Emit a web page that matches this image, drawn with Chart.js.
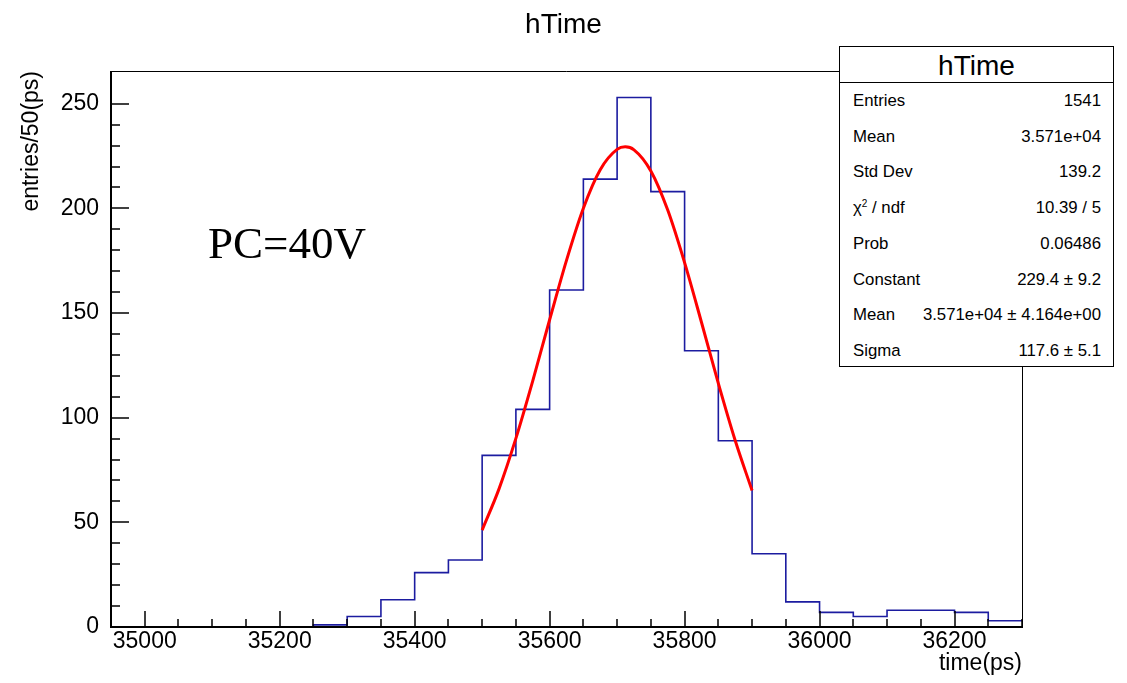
<!DOCTYPE html>
<html>
<head>
<meta charset="utf-8">
<script src="https://cdn.jsdelivr.net/npm/chart.js@4/dist/chart.umd.min.js"></script>
<style>
  html, body { margin: 0; padding: 0; background: #fff; }
  #wrap { position: relative; width: 1127px; height: 683px; font-family: "Liberation Sans", Arial, sans-serif; }
  #stats { position: absolute; left: 839px; top: 46px; width: 275px; height: 321px; border: 1px solid #000; background: #fff; box-sizing: border-box; }
  #stats .ttl { position: absolute; left: 0; right: 0; top: 0; height: 35px; line-height: 38px; text-align: center; font-size: 28px; border-bottom: 1px solid #000; }
  #stats .row { position: absolute; left: 13px; right: 12px; height: 20px; line-height: 20px; font-size: 16.8px; }
  #stats .row .l { position: absolute; left: 0; }
  #stats .row .r { position: absolute; right: 0; }
  #stats sup { font-size: 10px; vertical-align: 6px; line-height: 0; }
  #pc { position: absolute; left: 208px; top: 218px; font-family: "Liberation Serif", "Times New Roman", serif; font-size: 45px; line-height: 50px; white-space: nowrap; }
</style>
</head>
<body>
<div id="wrap">
  <canvas id="c" width="1127" height="683"></canvas>
  <div id="pc">PC=40V</div>
  <div id="stats"></div>
</div>
<script>
// ---- data ----
const binLowEdges = [34950, 35000, 35050, 35100, 35150, 35200, 35250, 35300, 35350, 35400,
                     35450, 35500, 35550, 35600, 35650, 35700, 35750, 35800, 35850, 35900,
                     35950, 36000, 36050, 36100, 36150, 36200, 36250];
const binCounts   = [0, 0, 0, 0, 0, 0, 1, 5, 13, 26,
                     32, 82, 104, 161, 214, 253, 208, 132, 89, 35,
                     12, 7, 5, 8, 8, 7, 3];
const histUpperEdge = 36300;

const fitX = [35500, 35525, 35550, 35575, 35600, 35625, 35650, 35675, 35700, 35712,
              35725, 35750, 35775, 35800, 35825, 35850, 35875, 35900];
const fitY = [46.3, 66.0, 90.1, 117.6, 146.8, 175.2, 200.1, 218.5, 228.2, 229.4,
              228.0, 217.9, 199.2, 174.1, 145.6, 116.4, 89.1, 65.2];

const xRange = [34950, 36300];
const yRange = [0, 265.65];

const statsLabels = ["Entries", "Mean", "Std Dev", "χ<sup>2</sup> / ndf", "Prob", "Constant", "Mean", "Sigma"];
const statsValues = ["1541", "3.571e+04", "139.2", "10.39 / 5", "0.06486", "229.4 ± 9.2", "3.571e+04 ± 4.164e+00", "117.6 ± 5.1"];

// ---- stats box ----
const st = document.getElementById('stats');
st.innerHTML = '<div class="ttl">hTime</div>' + statsLabels.map((l, i) =>
  `<div class="row" style="top:${44 + i * 35.7}px"><span class="l">${l}</span><span class="r">${statsValues[i]}</span></div>`).join('');

// ---- chart ----
// each bin's count holds from its low edge to the next edge
const histPoints = binLowEdges.map((e, i) => ({ x: e, y: i === 0 ? binCounts[0] : binCounts[i - 1] }));
histPoints.push({ x: histUpperEdge, y: binCounts[binCounts.length - 1] });
const fitPoints = fitX.map((x, i) => ({ x: x, y: fitY[i] }));

const frameTicks = {
  id: 'frameTicks',
  afterDatasetsDraw(chart) {
    const { ctx, chartArea: a, scales } = chart;
    const x = scales.x, y = scales.y;
    ctx.save();
    ctx.strokeStyle = '#000';
    ctx.lineWidth = 1;
    ctx.beginPath();
    ctx.moveTo(a.left, a.top + 0.5); ctx.lineTo(a.right + 0.5, a.top + 0.5);
    ctx.lineTo(a.right + 0.5, a.bottom);
    ctx.stroke();
    ctx.lineWidth = 2;
    ctx.beginPath();
    ctx.moveTo(a.left, a.top); ctx.lineTo(a.left, a.bottom);
    ctx.lineTo(a.right + 1, a.bottom);
    ctx.stroke();
    ctx.lineWidth = 1.5;
    ctx.beginPath();
    x.ticks.forEach(t => {
      const v = t.value;
      if (Math.abs(v / 50 - Math.round(v / 50)) > 1e-6) return;
      const px = Math.round(x.getPixelForValue(v));
      const len = (v % 200 === 0) ? 16 : 8;
      ctx.moveTo(px, a.bottom); ctx.lineTo(px, a.bottom - len);
    });
    y.ticks.forEach(t => {
      const v = t.value;
      if (Math.abs(v / 10 - Math.round(v / 10)) > 1e-6) return;
      const py = Math.round(y.getPixelForValue(v));
      const len = (v % 50 === 0) ? 18 : 9;
      ctx.moveTo(a.left, py); ctx.lineTo(a.left + len, py);
    });
    ctx.stroke();
    ctx.restore();
  }
};

Chart.defaults.font.family = '"Liberation Sans", Arial, sans-serif';
Chart.defaults.color = '#000';

new Chart(document.getElementById('c'), {
  type: 'line',
  data: {
    datasets: [
      {
        label: 'fit',
        data: fitPoints,
        borderColor: '#ff0000',
        borderWidth: 3,
        pointRadius: 0,
        cubicInterpolationMode: 'monotone',
        fill: false,
        order: 0
      },
      {
        label: 'hTime',
        data: histPoints,
        borderColor: '#1c1ca0',
        borderWidth: 1.6,
        pointRadius: 0,
        stepped: 'after',
        fill: false,
        order: 1
      }
    ]
  },
  options: {
    responsive: false,
    animation: false,
    layout: { padding: 0 },
    plugins: {
      legend: { display: false },
      tooltip: { enabled: false },
      title: {
        display: true,
        text: 'hTime',
        font: { size: 28, weight: 'normal' },
        color: '#000',
        padding: { top: 8, bottom: 29.4 }
      }
    },
    scales: {
      x: {
        type: 'linear',
        position: 'bottom',
        min: xRange[0],
        max: xRange[1],
        grid: { display: false, drawTicks: false },
        border: { display: false },
        ticks: {
          stepSize: 50,
          autoSkip: false,
          maxRotation: 0,
          minRotation: 0,
          padding: 1,
          font: { size: 23 },
          color: '#000',
          callback: (v) => (v % 200 === 0 ? String(v) : '')
        },
        title: {
          display: true,
          text: 'time(ps)',
          align: 'end',
          font: { size: 23 },
          color: '#000',
          padding: { top: 0, bottom: 6 }
        },
        afterFit: (s) => { s.height = 56; }
      },
      y: {
        type: 'linear',
        position: 'left',
        min: yRange[0],
        max: yRange[1],
        grid: { display: false, drawTicks: false },
        border: { display: false },
        ticks: {
          stepSize: 10,
          autoSkip: false,
          padding: 12,
          font: { size: 23 },
          color: '#000',
          callback: (v) => (v % 50 === 0 ? String(v) : '')
        },
        title: {
          display: true,
          text: 'entries/50(ps)',
          align: 'end',
          font: { size: 23 },
          color: '#000',
          padding: { top: 18, bottom: 0 }
        },
        afterFit: (s) => { s.width = 111; }
      },
      yR: {
        type: 'linear',
        position: 'right',
        display: true,
        grid: { display: false, drawTicks: false },
        border: { display: false },
        ticks: { display: false },
        afterFit: (s) => { s.width = 105; }
      }
    }
  },
  plugins: [frameTicks]
});
</script>
</body>
</html>
